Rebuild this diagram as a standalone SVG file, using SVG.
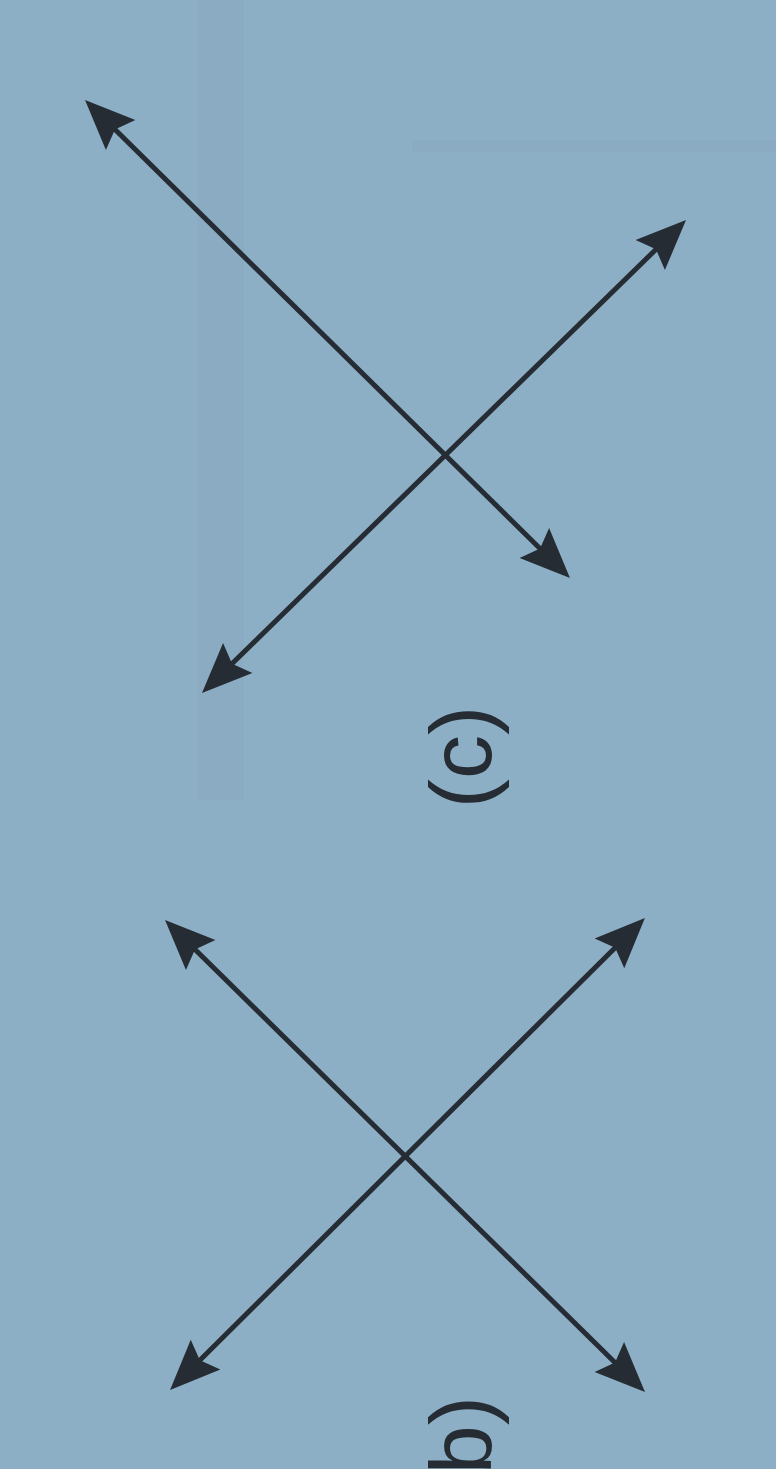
<svg xmlns="http://www.w3.org/2000/svg" width="776" height="1469" viewBox="0 0 776 1469">
  <style>
    .axis { stroke: #262c33; stroke-width: 5; fill: none; marker-start: url(#head); marker-end: url(#head); }
    .label { font-family: "Liberation Sans", Arial, sans-serif; font-size: 88px; fill: #262c33; }
    .ghost { fill: #7f9fb6; opacity: 0.22; }
  </style>
  <defs>
    <marker id="head" markerUnits="userSpaceOnUse" viewBox="-54 -26 58 52" markerWidth="58" markerHeight="52" refX="-14" refY="0" orient="auto-start-reverse">
      <path d="M0,0 L-50,-21 L-42,0 L-50,21 Z" fill="#262c33"/>
    </marker>
  </defs>
  <rect x="0" y="0" width="776" height="1469" fill="#8dafc6"/>
  <g id="background-marks">
    <rect class="ghost" x="198" y="0" width="46" height="800"/>
    <rect class="ghost" x="412" y="140" width="364" height="12"/>
  </g>
  <g id="connectors">
    <line class="axis" x1="95" y1="109.8" x2="560" y2="568.2"/>
    <line class="axis" x1="212" y1="683.2" x2="676" y2="229.8"/>
    <line class="axis" x1="175" y1="929.8" x2="635" y2="1382.2"/>
    <line class="axis" x1="180" y1="1380.1" x2="635" y2="927.9"/>
  </g>
  <g id="label-c">
    <text class="label" transform="translate(491,757) rotate(-90)" text-anchor="middle">(c)</text>
  </g>
  <g id="label-b">
    <text class="label" transform="translate(491,1396) rotate(-90)" text-anchor="end">(b)</text>
  </g>
</svg>
